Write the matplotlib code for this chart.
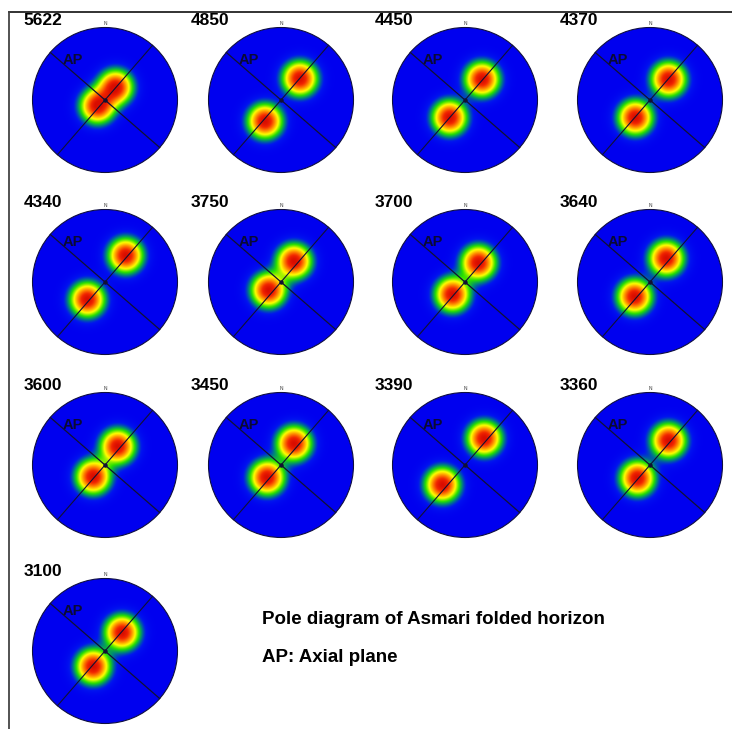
import numpy as np
import matplotlib
matplotlib.use("Agg")
import matplotlib.pyplot as plt
from matplotlib.colors import LinearSegmentedColormap
from matplotlib.patches import Circle
from matplotlib.lines import Line2D

plt.rcParams['font.family'] = ['Liberation Sans', 'DejaVu Sans']

# depth labels of each pole diagram
depths = ['5622', '4850', '4450', '4370',
          '4340', '3750', '3700', '3640',
          '3600', '3450', '3390', '3360',
          '3100']
# pole maxima positions (unit circle, x east, y north)
upper_x = [0.14, 0.26, 0.23, 0.25, 0.28, 0.18, 0.18, 0.22, 0.17, 0.18, 0.26, 0.25, 0.23]
upper_y = [0.17, 0.29, 0.28, 0.28, 0.36, 0.28, 0.26, 0.32, 0.25, 0.29, 0.36, 0.33, 0.25]
lower_x = [-0.11, -0.22, -0.22, -0.21, -0.25, -0.17, -0.18, -0.22, -0.17, -0.19, -0.32, -0.18, -0.17]
lower_y = [-0.09, -0.30, -0.25, -0.25, -0.25, -0.12, -0.18, -0.21, -0.17, -0.18, -0.28, -0.19, -0.22]

W, H = 732, 729
col_cx = [105, 281, 465, 650]
row_cy = [100, 282, 465, 651]
R = 72.5
sigma = 0.145

cmap = LinearSegmentedColormap.from_list('pole', [
    (0.0, (0.0, 0.0, 0.94)),
    (0.07, (0.0, 0.08, 0.94)),
    (0.17, (0.0, 0.55, 0.45)),
    (0.27, (0.15, 0.88, 0.0)),
    (0.45, (1.0, 1.0, 0.0)),
    (0.65, (1.0, 0.55, 0.0)),
    (0.85, (0.95, 0.15, 0.0)),
    (1.0, (0.85, 0.05, 0.0)),
])

fig = plt.figure(figsize=(W / 100, H / 100), dpi=100)

g = np.linspace(-1, 1, 300)
X, Y = np.meshgrid(g, g)

for i, label in enumerate(depths):
    r, c = divmod(i, 4)
    cx, cy = col_cx[c], row_cy[r]
    h = 1.12 * R
    ax = fig.add_axes([(cx - h) / W, (H - cy - h) / H, 2 * h / W, 2 * h / H])
    ax.set_xlim(-1.12, 1.12)
    ax.set_ylim(-1.12, 1.12)
    ax.axis('off')

    d = (np.exp(-((X - upper_x[i]) ** 2 + (Y - upper_y[i]) ** 2) / (2 * sigma ** 2))
         + np.exp(-((X - lower_x[i]) ** 2 + (Y - lower_y[i]) ** 2) / (2 * sigma ** 2)))
    d = np.clip(d, 0, 1)
    circ = Circle((0, 0), 1, transform=ax.transData, facecolor='none')
    im = ax.imshow(d, extent=(-1, 1, -1, 1), origin='lower', cmap=cmap,
                   vmin=0, vmax=1, interpolation='bilinear')
    im.set_clip_path(circ)
    ax.add_patch(Circle((0, 0), 1, facecolor='none', edgecolor='#101040', lw=0.8))

    a1 = np.deg2rad(-41)
    a2 = np.deg2rad(49)
    ax.plot([-np.cos(a1), np.cos(a1)], [-np.sin(a1), np.sin(a1)], color='#111133', lw=0.9)
    ax.plot([-np.cos(a2), np.cos(a2)], [-np.sin(a2), np.sin(a2)], color='#111133', lw=0.8)
    ax.plot(0, 0, 'o', color='#111133', ms=2.2)

    ax.text(0, 1.06, 'N', fontsize=3.5, ha='center', va='center', color='#333333')
    ax.text(-0.45, 0.55, 'AP', fontsize=10.5, fontweight='bold', color='#0a0a35',
            ha='center', va='center')
    lx = -1.12 if c == 0 else -1.25
    ax.text(lx, 1.1, label, fontsize=12.5, fontweight='bold', ha='left', va='center',
            clip_on=False)

fig.text(262 / W, 1 - 620 / H, 'Pole diagram of Asmari folded horizon', fontsize=13.5,
         fontweight='bold', ha='left', va='center')
fig.text(262 / W, 1 - 658 / H, 'AP: Axial plane', fontsize=13.5,
         fontweight='bold', ha='left', va='center')

fig.add_artist(Line2D([9 / W, 1.0], [1 - 12 / H, 1 - 12 / H], color='#222222', lw=1.3))
fig.add_artist(Line2D([9 / W, 9 / W], [0, 1 - 12 / H], color='#444444', lw=1.3))

fig.savefig('out.png', dpi=100)
